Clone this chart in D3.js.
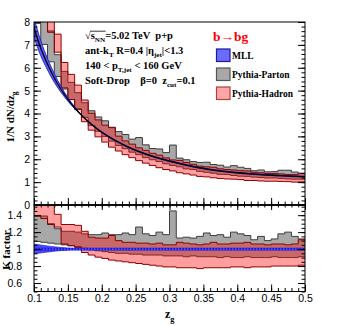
<!DOCTYPE html>
<html>
<head>
<meta charset="utf-8">
<script src="https://d3js.org/d3.v7.min.js"></script>
<style>
  body { margin: 0; background: #fff; }
  text { white-space: pre; }
</style>
</head>
<body>
<script>
// bins of z_g (lower edges, width 0.01)
var zgBins = [0.10, 0.11, 0.12, 0.13, 0.14, 0.15, 0.16, 0.17, 0.18, 0.19,
              0.20, 0.21, 0.22, 0.23, 0.24, 0.25, 0.26, 0.27, 0.28, 0.29,
              0.30, 0.31, 0.32, 0.33, 0.34, 0.35, 0.36, 0.37, 0.38, 0.39,
              0.40, 0.41, 0.42, 0.43, 0.44, 0.45, 0.46, 0.47, 0.48, 0.49];
var zgMax = 0.5;

// top panel : 1/N dN/dzg
var partonHi = [10.12, 9.04, 7.61, 6.57, 5.84, 5.36, 4.91, 4.47, 4.12, 3.85,
                3.68, 3.40, 3.21, 3.08, 2.88, 2.95, 2.63, 2.47, 2.45, 2.29,
                2.62, 2.05, 1.98, 1.90, 1.86, 1.87, 1.77, 1.74, 1.66, 1.72,
                1.65, 1.60, 1.50, 1.53, 1.45, 1.46, 1.52, 1.52, 1.44, 1.39];
var partonLo = [7.94, 7.02, 6.26, 5.62, 5.07, 4.61, 4.21, 3.83, 3.48, 3.22,
                3.00, 2.79, 2.60, 2.46, 2.31, 2.20, 2.07, 1.98, 1.90, 1.80,
                1.73, 1.67, 1.58, 1.55, 1.47, 1.43, 1.39, 1.34, 1.33, 1.29,
                1.26, 1.25, 1.22, 1.20, 1.18, 1.18, 1.16, 1.14, 1.13, 1.13];
var hadronHi = [11.28, 10.08, 8.90, 7.47, 6.23, 5.71, 5.24, 4.59, 4.01, 3.72,
                3.49, 3.38, 3.01, 2.80, 2.66, 2.50, 2.39, 2.26, 2.18, 2.06,
                1.97, 1.95, 1.86, 1.78, 1.70, 1.67, 1.65, 1.58, 1.55, 1.53,
                1.50, 1.49, 1.43, 1.41, 1.38, 1.38, 1.36, 1.33, 1.33, 1.38];
var hadronLo = [10.12, 8.84, 7.55, 6.68, 5.12, 4.61, 4.17, 3.64, 3.27, 2.98,
                2.75, 2.53, 2.36, 2.20, 2.07, 1.94, 1.83, 1.73, 1.63, 1.55,
                1.49, 1.41, 1.36, 1.31, 1.25, 1.23, 1.19, 1.16, 1.14, 1.13,
                1.11, 1.07, 1.07, 1.05, 1.04, 1.04, 1.03, 1.02, 1.00, 1.01];

// MLL curve
var mllZ      = [0.10, 0.11, 0.12, 0.13, 0.14, 0.15, 0.16, 0.17, 0.18, 0.19, 0.20,
                 0.22, 0.24, 0.26, 0.28, 0.30, 0.32, 0.34, 0.36, 0.38, 0.40,
                 0.42, 0.44, 0.46, 0.48, 0.50];
var mllCenter = [7.75, 6.85, 6.15, 5.55, 5.05, 4.62, 4.25, 3.93, 3.65, 3.40, 3.18,
                 2.82, 2.52, 2.28, 2.08, 1.92, 1.78, 1.65, 1.55, 1.47, 1.41,
                 1.36, 1.32, 1.29, 1.26, 1.24];
var mllLo     = [7.32, 6.52, 5.90, 5.36, 4.92, 4.54, 4.21, 3.91, 3.63, 3.38, 3.16,
                 2.80, 2.50, 2.26, 2.06, 1.90, 1.76, 1.63, 1.53, 1.45, 1.39,
                 1.34, 1.30, 1.27, 1.24, 1.22];
var mllHi     = [8.18, 7.18, 6.40, 5.74, 5.18, 4.70, 4.29, 3.95, 3.67, 3.42, 3.20,
                 2.84, 2.54, 2.30, 2.10, 1.94, 1.80, 1.67, 1.57, 1.49, 1.43,
                 1.38, 1.34, 1.31, 1.28, 1.26];

// ratio panel : K factor
var kPartonHi = [1.39, 1.39, 1.30, 1.24, 1.21, 1.21, 1.20, 1.18, 1.17, 1.17,
                 1.19, 1.17, 1.17, 1.19, 1.17, 1.26, 1.18, 1.16, 1.20, 1.17,
                 1.45, 1.13, 1.14, 1.13, 1.15, 1.19, 1.16, 1.17, 1.14, 1.20,
                 1.18, 1.16, 1.11, 1.15, 1.10, 1.12, 1.18, 1.20, 1.15, 1.12];
var kPartonLo = [1.09, 1.08, 1.07, 1.06, 1.05, 1.04, 1.03, 1.01, 0.99, 0.98,
                 0.97, 0.96, 0.95, 0.95, 0.94, 0.94, 0.93, 0.93, 0.93, 0.92,
                 0.92, 0.92, 0.91, 0.92, 0.91, 0.91, 0.91, 0.90, 0.91, 0.90,
                 0.90, 0.91, 0.90, 0.90, 0.90, 0.91, 0.90, 0.90, 0.90, 0.91];
var kHadronHi = [1.55, 1.55, 1.52, 1.41, 1.29, 1.29, 1.28, 1.21, 1.14, 1.13,
                 1.13, 1.16, 1.10, 1.08, 1.08, 1.07, 1.07, 1.06, 1.07, 1.05,
                 1.05, 1.08, 1.07, 1.06, 1.05, 1.06, 1.08, 1.06, 1.06, 1.07,
                 1.07, 1.08, 1.06, 1.06, 1.05, 1.06, 1.06, 1.05, 1.06, 1.11];
var kHadronLo = [1.39, 1.36, 1.29, 1.26, 1.06, 1.04, 1.02, 0.96, 0.93, 0.905,
                 0.89, 0.87, 0.86, 0.85, 0.84, 0.83, 0.82, 0.81, 0.80, 0.79,
                 0.79, 0.78, 0.78, 0.78, 0.77, 0.78, 0.78, 0.78, 0.78, 0.79,
                 0.79, 0.78, 0.79, 0.79, 0.79, 0.80, 0.80, 0.80, 0.80, 0.81];
var kMllLo = [0.945, 0.955, 0.965, 0.975, 0.983, 0.990, 0.996, 0.996, 0.996, 0.996, 0.996,
              0.996, 0.996, 0.996, 0.996, 0.996, 0.996, 0.996, 0.996, 0.996, 0.996,
              0.996, 0.996, 0.996, 0.996, 0.996];
var kMllHi = [1.060, 1.048, 1.038, 1.028, 1.019, 1.011, 1.004, 1.004, 1.004, 1.004, 1.004,
              1.004, 1.004, 1.004, 1.004, 1.004, 1.004, 1.004, 1.004, 1.004, 1.004,
              1.004, 1.004, 1.004, 1.004, 1.004];

// ticks
var topTicks = [0, 1, 2, 3, 4, 5, 6, 7, 8];
var kTicks = [0.6, 0.8, 1.0, 1.2, 1.4];
var kTickLabels = ["0.6", "0.8", "1", "1.2", "1.4"];
var xTicks = [0.1, 0.15, 0.2, 0.25, 0.3, 0.35, 0.4, 0.45, 0.5];
var xTickLabels = ["0.1", "0.15", "0.2", "0.25", "0.3", "0.35", "0.4", "0.45", "0.5"];

var W = 339, H = 326;
var left = 34, right = 305, topY = 22, midY = 205, botY = 291.5;

var svg = d3.select("body").append("svg")
  .attr("width", W).attr("height", H)
  .style("font-family", "'Liberation Sans', Arial, sans-serif");

var x = d3.scaleLinear().domain([0.1, 0.5]).range([left, right]);
var yTop = d3.scaleLinear().domain([0, 8]).range([midY, topY]);
var yK = d3.scaleLinear().domain([0.5, 1.52]).range([botY, midY]);

var defs = svg.append("defs");
defs.append("clipPath").attr("id", "clipTop").append("rect")
  .attr("x", left).attr("y", topY).attr("width", right - left).attr("height", midY - topY);
defs.append("clipPath").attr("id", "clipK").append("rect")
  .attr("x", left).attr("y", midY).attr("width", right - left).attr("height", botY - midY);

function binRows(lo, hi) {
  var rows = zgBins.map(function(z, i) { return { z: z, lo: lo[i], hi: hi[i] }; });
  rows.push({ z: zgMax, lo: lo[lo.length - 1], hi: hi[hi.length - 1] });
  return rows;
}

function drawBand(g, yScale, lo, hi, fill, stroke) {
  var rows = binRows(lo, hi);
  var area = d3.area().curve(d3.curveStepAfter)
    .x(function(d) { return x(d.z); })
    .y0(function(d) { return yScale(d.lo); })
    .y1(function(d) { return yScale(d.hi); });
  g.append("path").datum(rows).attr("d", area).attr("fill", fill).attr("stroke", "none");
  ["lo", "hi"].forEach(function(k) {
    var line = d3.line().curve(d3.curveStepAfter)
      .x(function(d) { return x(d.z); })
      .y(function(d) { return yScale(d[k]); });
    g.append("path").datum(rows).attr("d", line)
      .attr("fill", "none").attr("stroke", stroke).attr("stroke-width", 1);
  });
}

var grayFill = "#a8a8a8", grayLine = "#3c3c3c";
var redFill = "rgba(255,0,0,0.38)", redLine = "#8b0000";

// ---- top panel
var gTop = svg.append("g").attr("clip-path", "url(#clipTop)");
drawBand(gTop, yTop, partonLo, partonHi, grayFill, grayLine);
drawBand(gTop, yTop, hadronLo, hadronHi, redFill, redLine);

var mllRows = mllZ.map(function(z, i) {
  return { z: z, c: mllCenter[i], lo: mllLo[i], hi: mllHi[i], klo: kMllLo[i], khi: kMllHi[i] };
});
gTop.append("path").datum(mllRows)
  .attr("d", d3.area().curve(d3.curveMonotoneX)
    .x(function(d) { return x(d.z); })
    .y0(function(d) { return yTop(d.lo); })
    .y1(function(d) { return yTop(d.hi); }))
  .attr("fill", "#5c5cff").attr("stroke", "#1010c0").attr("stroke-width", 0.8);
gTop.append("path").datum(mllRows)
  .attr("d", d3.line().curve(d3.curveMonotoneX)
    .x(function(d) { return x(d.z); })
    .y(function(d) { return yTop(d.c); }))
  .attr("fill", "none").attr("stroke", "#000").attr("stroke-width", 1.3);

// ---- ratio panel
var gK = svg.append("g").attr("clip-path", "url(#clipK)");
drawBand(gK, yK, kPartonLo, kPartonHi, grayFill, grayLine);
drawBand(gK, yK, kHadronLo, kHadronHi, redFill, redLine);
gK.append("path").datum(mllRows)
  .attr("d", d3.area().curve(d3.curveMonotoneX)
    .x(function(d) { return x(d.z); })
    .y0(function(d) { return yK(d.klo); })
    .y1(function(d) { return yK(d.khi); }))
  .attr("fill", "#4a4aff").attr("stroke", "#1a1ad0").attr("stroke-width", 0.6);
gK.append("line")
  .attr("x1", x(0.1)).attr("x2", x(0.5)).attr("y1", yK(1)).attr("y2", yK(1))
  .attr("stroke", "#1414e6").attr("stroke-width", 2.6);
gK.append("line")
  .attr("x1", x(0.1)).attr("x2", x(0.5)).attr("y1", yK(1)).attr("y2", yK(1))
  .attr("stroke", "#8a8aff").attr("stroke-width", 1).attr("stroke-dasharray", "1.5,1.5");

// ---- axes (ticks inside, ROOT style)
function noDomain(g) { g.select(".domain").remove(); g.selectAll("line").attr("stroke", "#000"); }

var major = 7, minor = 3.5;
// top panel y
svg.append("g").attr("transform", "translate(" + left + ",0)")
  .call(d3.axisLeft(yTop).tickValues(topTicks).tickSize(-major).tickPadding(4).tickFormat(d3.format("d")))
  .call(noDomain);
svg.append("g").attr("transform", "translate(" + left + ",0)")
  .call(d3.axisLeft(yTop).tickValues(d3.range(0, 8.01, 0.2)).tickSize(-minor).tickFormat(""))
  .call(noDomain);
svg.append("g").attr("transform", "translate(" + right + ",0)")
  .call(d3.axisRight(yTop).tickValues(topTicks).tickSize(-major).tickFormat(""))
  .call(noDomain);
svg.append("g").attr("transform", "translate(" + right + ",0)")
  .call(d3.axisRight(yTop).tickValues(d3.range(0, 8.01, 0.2)).tickSize(-minor).tickFormat(""))
  .call(noDomain);
// top panel x ticks at bottom edge
svg.append("g").attr("transform", "translate(0," + midY + ")")
  .call(d3.axisBottom(x).tickValues(xTicks).tickSize(-major).tickFormat(""))
  .call(noDomain);
svg.append("g").attr("transform", "translate(0," + midY + ")")
  .call(d3.axisBottom(x).tickValues(d3.range(0.1, 0.5001, 0.01)).tickSize(-minor).tickFormat(""))
  .call(noDomain);
// ratio y
var kMinor = d3.range(0.5, 1.5201, 0.05);
svg.append("g").attr("transform", "translate(" + left + ",0)")
  .call(d3.axisLeft(yK).tickValues(kTicks).tickSize(-major).tickPadding(12)
    .tickFormat(function(d, i) { return kTickLabels[i]; }))
  .call(noDomain);
svg.append("g").attr("transform", "translate(" + left + ",0)")
  .call(d3.axisLeft(yK).tickValues(kMinor).tickSize(-minor).tickFormat(""))
  .call(noDomain);
svg.append("g").attr("transform", "translate(" + right + ",0)")
  .call(d3.axisRight(yK).tickValues(kTicks).tickSize(-major).tickFormat(""))
  .call(noDomain);
svg.append("g").attr("transform", "translate(" + right + ",0)")
  .call(d3.axisRight(yK).tickValues(kMinor).tickSize(-minor).tickFormat(""))
  .call(noDomain);
// ratio x
svg.append("g").attr("transform", "translate(0," + botY + ")")
  .call(d3.axisBottom(x).tickValues(xTicks).tickSize(-major).tickPadding(3)
    .tickFormat(function(d, i) { return xTickLabels[i]; }))
  .call(noDomain);
svg.append("g").attr("transform", "translate(0," + botY + ")")
  .call(d3.axisBottom(x).tickValues(d3.range(0.1, 0.5001, 0.01)).tickSize(-minor).tickFormat(""))
  .call(noDomain);
svg.append("g").attr("transform", "translate(0," + midY + ")")
  .call(d3.axisTop(x).tickValues(xTicks).tickSize(-5).tickFormat(""))
  .call(noDomain);
svg.append("g").attr("transform", "translate(0," + midY + ")")
  .call(d3.axisTop(x).tickValues(d3.range(0.1, 0.5001, 0.01)).tickSize(-2.5).tickFormat(""))
  .call(noDomain);

svg.selectAll(".tick text").attr("font-size", 10.5).attr("fill", "#000")
  .attr("font-family", "'Liberation Sans', Arial, sans-serif");

// frames
svg.append("rect").attr("x", left).attr("y", topY).attr("width", right - left).attr("height", midY - topY)
  .attr("fill", "none").attr("stroke", "#000").attr("stroke-width", 1);
svg.append("rect").attr("x", left).attr("y", midY).attr("width", right - left).attr("height", botY - midY)
  .attr("fill", "none").attr("stroke", "#000").attr("stroke-width", 1);
svg.append("line").attr("x1", left).attr("x2", right).attr("y1", midY).attr("y2", midY)
  .attr("stroke", "#000").attr("stroke-width", 1.5);

// ---- text helpers
var serif = "'Liberation Serif', 'Times New Roman', serif";
function rich(g, px, py, parts, size, color) {
  var t = g.append("text").attr("x", px).attr("y", py)
    .attr("font-family", serif).attr("font-weight", "bold")
    .attr("font-size", size).attr("fill", color || "#000");
  var shift = 0;
  parts.forEach(function(p) {
    var s = t.append("tspan").text(p[0]);
    var target = p[1] === "sub" ? size * 0.3 : 0;
    s.attr("dy", target - shift);
    shift = target;
    if (p[1] === "sub") s.attr("font-size", size * 0.68);
  });
  return t;
}

var fs = 10.5;
var l1 = rich(svg, 85, 39, [["√s", ""], ["NN", "sub"], ["=5.02 TeV  p+p", ""]], fs);
var e1 = l1.node().getExtentOfChar(1), e3 = l1.node().getExtentOfChar(3), e0 = l1.node().getExtentOfChar(0);
svg.append("line").attr("x1", e1.x - 0.5).attr("x2", e3.x + e3.width + 0.5)
  .attr("y1", e0.y + 1.2).attr("y2", e0.y + 1.2).attr("stroke", "#000").attr("stroke-width", 0.8);

rich(svg, 85, 54, [["ant-k", ""], ["T", "sub"], [" R=0.4 |η", ""], ["jet", "sub"], ["|<1.3", ""]], fs);
rich(svg, 85, 69, [["140 < p", ""], ["T,jet", "sub"], [" < 160 GeV", ""]], fs);
rich(svg, 85, 84, [["Soft-Drop    β=0  z", ""], ["cut", "sub"], ["=0.1", ""]], fs);

// legend
rich(svg, 213, 41, [["b→bg", ""]], 13.5, "#ff0000");
var legItems = ["MLL", "Pythia-Parton", "Pythia-Hadron"];
var legFill = ["#6b6bff", "#a8a8a8", "#ffa6a6"];
var legStroke = ["#1a1aa0", "#555555", "#b04040"];
legItems.forEach(function(name, i) {
  var yy = 49 + i * 19;
  svg.append("rect").attr("x", 216.5).attr("y", yy).attr("width", 13.5).attr("height", 12.5)
    .attr("fill", legFill[i]).attr("stroke", legStroke[i]).attr("stroke-width", 1.2);
  rich(svg, 232, yy + 10, [[name, ""]], 9.5);
});

// axis titles
rich(svg, 0, 0, [["1/N dN/dz", ""], ["g", "sub"]], 11)
  .attr("text-anchor", "middle").attr("transform", "translate(14,117) rotate(-90)");
rich(svg, 0, 0, [["K factor", ""]], 11)
  .attr("text-anchor", "middle").attr("transform", "translate(10,250) rotate(-90)");
rich(svg, 165, 318, [["z", ""], ["g", "sub"]], 12);
</script>
</body>
</html>
